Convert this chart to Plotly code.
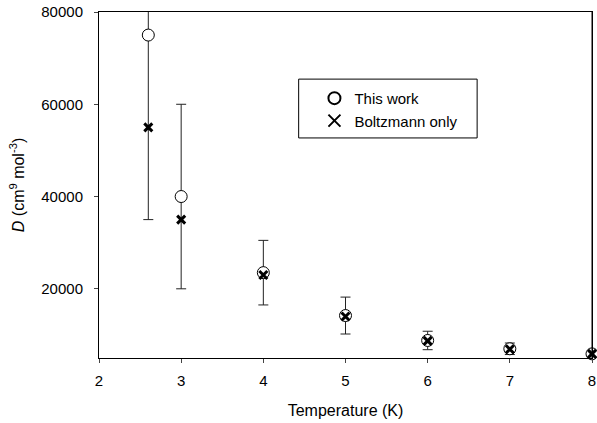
import plotly.graph_objects as go

temperature = [2.6, 3, 4, 5, 6, 7, 8]
this_work = [75000, 40000, 23500, 14200, 8800, 7000, 5900]
this_work_err = [40000, 20000, 7000, 4000, 2000, 1250, 400]
boltzmann_only = [55000, 35000, 23000, 14000, 8700, 6900, 5900]

x_ticks = [2, 3, 4, 5, 6, 7, 8]
y_ticks = [20000, 40000, 60000, 80000]
y_tick_text = ["20000", "40000", "60000", "80000"]

font = "Liberation Sans, Arial, sans-serif"

fig = go.Figure()
fig.add_trace(go.Scatter(
    x=temperature, y=this_work, mode="markers", name="This work",
    marker=dict(symbol="circle", size=12, color="white",
                line=dict(color="black", width=1)),
    error_y=dict(type="data", array=this_work_err, visible=True,
                 color="#222222", thickness=1, width=5),
    cliponaxis=False,
))
fig.add_trace(go.Scatter(
    x=temperature, y=boltzmann_only, mode="markers", name="Boltzmann only",
    marker=dict(symbol="x-thin", size=8, color="black",
                line=dict(color="black", width=3)),
    cliponaxis=False,
))

fig.update_layout(
    width=597, height=423,
    margin=dict(l=99, r=5, t=12, b=65, autoexpand=False),
    paper_bgcolor="white", plot_bgcolor="white",
    font=dict(family=font, size=15, color="black"),
    showlegend=True,
    legend=dict(x=0.437, y=0.798, xanchor="left", yanchor="top",
                bgcolor="rgba(0,0,0,0)", borderwidth=0,
                font=dict(size=15), itemsizing="constant",
                tracegroupgap=0),
    shapes=[
        dict(type="rect", xref="paper", yref="paper",
             x0=0.405, x1=0.767, y0=0.636, y1=0.806,
             line=dict(color="black", width=1)),
        dict(type="line", xref="paper", yref="paper",
             x0=1, x1=1, y0=0, y1=1, layer="above",
             line=dict(color="black", width=1)),
    ],
)
fig.update_xaxes(
    range=[2, 8], tickvals=x_ticks, ticks="outside", ticklen=4,
    ticklabelstandoff=5, automargin=False, ticklabeloverflow="allow",
    showline=True, linecolor="black", linewidth=1, mirror=True,
    showgrid=False, zeroline=False,
    title=dict(text="Temperature (K)", standoff=16, font=dict(size=16)),
)
fig.update_yaxes(
    range=[5000, 80000], tickvals=y_ticks, ticktext=y_tick_text,
    ticks="outside", ticklen=4, ticklabelstandoff=8, automargin=False,
    ticklabeloverflow="allow",
    showline=True, linecolor="black", linewidth=1, mirror=True,
    showgrid=False, zeroline=False,
    title=dict(text="<i>D</i> (cm<sup>9</sup> mol<sup>-3</sup>)",
               standoff=12, font=dict(size=16)),
)

fig.write_html(
    "out.html",
    config={"displayModeBar": False},
    post_script="document.body.style.margin='0';document.body.style.overflow='hidden';",
)
